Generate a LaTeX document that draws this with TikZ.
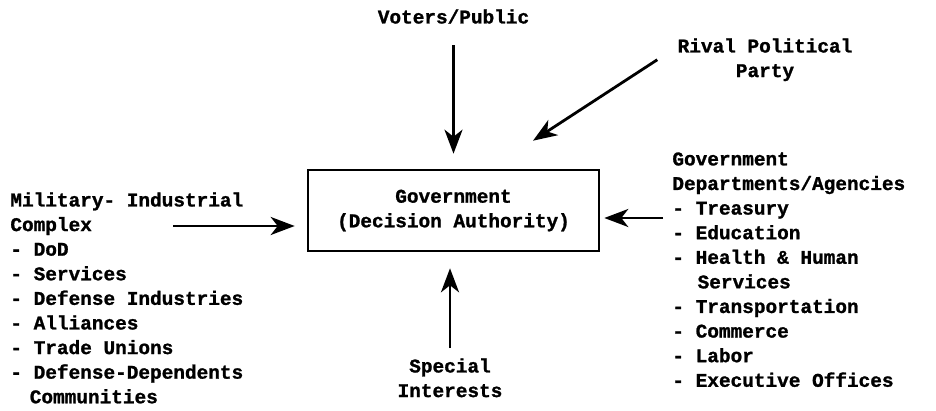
\documentclass[tikz,border=0pt]{standalone}
\usepackage{fontspec}
\setmonofont{Liberation Mono}[BoldFeatures={FakeBold=1.2}]
\usetikzlibrary{arrows.meta}
\tikzset{
  lbl/.style={font=\ttfamily\bfseries\fontsize{9.7}{12.3}\selectfont, inner sep=0pt},
  arr/.style={line width=1.4pt, -{Stealth[length=12pt,width=9pt,inset=3.5pt]}}
}
\begin{document}
\begin{tikzpicture}[x=0.5pt,y=-0.5pt]
\useasboundingbox (0,0) rectangle (936,411);
\node[draw, line width=1.3pt, minimum width=145.5pt, minimum height=40.5pt, lbl, align=center] (gov) at (453.5,210.5) {Government\\(Decision Authority)};
\node[lbl, anchor=north] (voters) at (453.5,9) {Voters/Public};
\node[lbl, anchor=north, align=center] (rival) at (765,38) {Rival Political\\Party};
\node[lbl, anchor=north west, align=left] (mic) at (10,192) {Military- Industrial\\Complex\\- DoD\\- Services\\- Defense Industries\\- Alliances\\- Trade Unions\\- Defense-Dependents\\\hspace*{1em}Communities};
\node[lbl, anchor=north west, align=left] (depts) at (672,152) {Government\\Departments/Agencies\\- Treasury\\- Education\\- Health \& Human\\\hspace*{1.3em}Services\\- Transportation\\- Commerce\\- Labor\\- Executive Offices};
\node[lbl, anchor=north, align=center] (special) at (450,358) {Special\\Interests};
\coordinate (micout) at (173,226);
\coordinate (deptout) at (663,218);
\draw[arr, shorten <=10.5pt, shorten >=7.5pt] (voters) -- (gov);
\draw[arr] ([xshift=-10pt]rival.west) -- ([xshift=39.75pt,yshift=14pt]gov.north);
\draw[arr, shorten >=6pt] (micout) -- (micout -| gov.west);
\draw[arr, shorten >=2pt] (deptout) -- (deptout -| gov.east);
\draw[arr, shorten <=5pt, shorten >=8pt] (special) -- (special |- gov.south);
\end{tikzpicture}
\end{document}
